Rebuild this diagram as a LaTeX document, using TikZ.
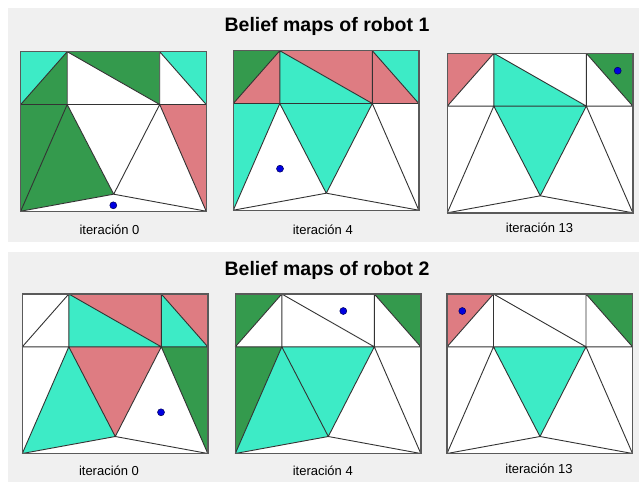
\documentclass[tikz,border=0pt]{standalone}
\usepackage{fontspec}
\setmainfont{Liberation Sans}
\definecolor{bg}{HTML}{F0F0F0}
\definecolor{cy}{HTML}{3DEBC6}
\definecolor{gr}{HTML}{349A4D}
\definecolor{rd}{HTML}{DE7C82}
\colorlet{wh}{white}
\definecolor{edge}{HTML}{333333}
\definecolor{framec}{HTML}{5A5A5A}
\definecolor{dotc}{HTML}{0000E0}
\tikzset{
  mesh/.style={draw=edge, line width=0.9pt, line join=round},
  frame/.style={draw=framec, line width=1.4pt},
  robot/.style={circle, fill=dotc, draw=blue!35!black, line width=0.5pt, inner sep=0pt, minimum size=7pt},
  maptitle/.style={font=\bfseries\fontsize{19.5}{23}\selectfont, anchor=base, inner sep=0pt},
  mapcaption/.style={font=\fontsize{13}{15}\selectfont, anchor=base, inner sep=0pt},
}
% #1,#2 origin; #3 colours of the 12 triangles; #4,#5 robot position; #6 robot node name
\newcommand\bmap[6]{%
\begin{scope}[shift={(#1,#2)}]
\coordinate (TL) at (0,0);
\coordinate (TR) at (185.5,0);
\coordinate (BL) at (0,159.5);
\coordinate (BR) at (185.5,159.5);
\coordinate (A) at (46.5,0);
\coordinate (B) at (139,0);
\coordinate (ML) at (0,52.8);
\coordinate (C) at (46.5,52.8);
\coordinate (D) at (139,52.8);
\coordinate (MR) at (185.5,52.8);
\coordinate (E) at (93,142.5);
\foreach \col [count=\i] in {#3}{%
 \ifcase\i\or
 \fill[\col] (TL)--(A)--(ML)--cycle;\or
 \fill[\col] (A)--(ML)--(C)--cycle;\or
 \fill[\col] (A)--(B)--(D)--cycle;\or
 \fill[\col] (A)--(C)--(D)--cycle;\or
 \fill[\col] (B)--(TR)--(MR)--cycle;\or
 \fill[\col] (B)--(D)--(MR)--cycle;\or
 \fill[\col] (ML)--(C)--(BL)--cycle;\or
 \fill[\col] (C)--(BL)--(E)--cycle;\or
 \fill[\col] (C)--(D)--(E)--cycle;\or
 \fill[\col] (D)--(E)--(BR)--cycle;\or
 \fill[\col] (D)--(MR)--(BR)--cycle;\or
 \fill[\col] (BL)--(E)--(BR)--cycle;\fi}
\draw[mesh] (A)--(C) (B)--(D) (ML)--(MR) (A)--(ML) (A)--(D) (B)--(MR)
  (C)--(BL) (C)--(E) (D)--(E) (D)--(BR) (BL)--(E)--(BR);
\draw[frame] (TL) rectangle (BR);
\node[robot] (#6) at (#4,#5) {};
\end{scope}}
\begin{document}
\begin{tikzpicture}[x=1pt,y=-1pt]
\useasboundingbox (0,0) rectangle (639,482);
\fill[white] (0,0) rectangle (639,482);
\fill[bg] (8,8) rectangle (639,241.7);
\fill[bg] (8,251.7) rectangle (639,482);

\node[maptitle] (title1) at (327,31.5) {Belief maps of robot 1};
\node[maptitle] (title2) at (327,275.2) {Belief maps of robot 2};

\bmap{20.7}{51.7}{cy,gr,gr,wh,cy,wh,gr,gr,wh,wh,rd,wh}{92.6}{153.6}{r1a}
\bmap{233.3}{50.7}{gr,rd,rd,cy,cy,rd,cy,wh,cy,wh,wh,wh}{46.7}{118}{r1b}
\bmap{447.3}{53.3}{rd,wh,wh,cy,gr,wh,wh,wh,cy,wh,wh,wh}{170.4}{17.4}{r1c}
\bmap{22.3}{294}{wh,wh,rd,cy,rd,cy,wh,cy,rd,wh,gr,wh}{138.7}{118.3}{r2a}
\bmap{235.3}{294}{gr,wh,wh,wh,gr,wh,gr,cy,cy,wh,wh,wh}{108}{17}{r2b}
\bmap{447}{294}{rd,wh,wh,wh,gr,wh,wh,wh,cy,wh,wh,wh}{15.3}{17}{r2c}

\node[mapcaption] (c1a) at (109.5,234.8) {iteración 0};
\node[mapcaption] (c1b) at (322.8,234.5) {iteración 4};
\node[mapcaption] (c1c) at (539.5,232.5) {iteración 13};
\node[mapcaption] (c2a) at (109,475) {iteración 0};
\node[mapcaption] (c2b) at (322.8,475) {iteración 4};
\node[mapcaption] (c2c) at (539,473) {iteración 13};
\end{tikzpicture}
\end{document}
